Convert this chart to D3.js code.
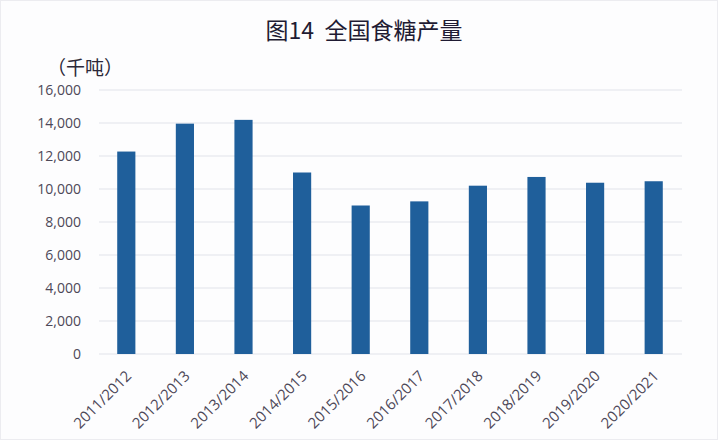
<!DOCTYPE html>
<html><head><meta charset="utf-8">
<script src="https://cdn.jsdelivr.net/npm/d3@7"></script>
<style>html,body{margin:0;padding:0;background:#fff;} svg{display:block;}</style>
</head><body>
<svg id="chart" width="718" height="440"></svg>
<script>
const categories = ["2011/2012","2012/2013","2013/2014","2014/2015","2015/2016","2016/2017","2017/2018","2018/2019","2019/2020","2020/2021"];
const production = [12270, 13960, 14190, 11000, 9000, 9250, 10200, 10730, 10380, 10470];
const yTicks = [0, 2000, 4000, 6000, 8000, 10000, 12000, 14000, 16000];
const titleText = "图14\u00a0\u00a0全国食糖产量";
const unitText = "（千吨）";

const svg = d3.select("#chart");
svg.append("rect").attr("x",0.5).attr("y",0.5).attr("width",717).attr("height",439)
  .attr("fill","#fdfdfe").attr("stroke","#ececf0");

const x = d3.scaleBand().domain(categories).range([97, 683]).paddingInner(0.69).paddingOuter(0.345);
const y = d3.scaleLinear().domain([0, 16000]).range([354, 90]);

// gridlines
svg.append("g").selectAll("line").data(yTicks).join("line")
  .attr("x1", 99).attr("x2", 682)
  .attr("y1", d => y(d)).attr("y2", d => y(d))
  .attr("stroke", "#e1e4ea").attr("stroke-width", 1.2);

// y axis labels
const yAxis = d3.axisLeft(y).tickValues(yTicks).tickFormat(d3.format(",")).tickSize(0).tickPadding(0);
const yg = svg.append("g").attr("transform","translate(81,0)").call(yAxis);
yg.select(".domain").remove();
yg.selectAll("text").attr("font-family","'Open Sans', sans-serif").attr("font-size",14).attr("fill","#4d4858");

// bars
svg.append("g").selectAll("rect").data(categories).join("rect")
  .attr("x", d => x(d))
  .attr("width", x.bandwidth())
  .attr("y", (d,i) => y(production[i]))
  .attr("height", (d,i) => y(0) - y(production[i]))
  .attr("fill", "#1f5f9b");

// x axis labels
const xAxis = d3.axisBottom(x).tickSize(0).tickPadding(0);
const xg = svg.append("g").call(xAxis);
xg.select(".domain").remove();
xg.selectAll(".tick text")
  .attr("font-family","'Open Sans', sans-serif").attr("font-size",15).attr("fill","#4d4858")
  .attr("text-anchor","end")
  .attr("dy", null).attr("y", null)
  .attr("transform", "translate(6,377) rotate(-45)");

// title
svg.append("text").attr("x", 364).attr("y", 39).attr("text-anchor","middle")
  .attr("font-family","'Noto Sans CJK SC', sans-serif").attr("font-size",23)
  .attr("fill","#1f1b33").text(titleText);

// unit
svg.append("text").attr("x", 47).attr("y", 75)
  .attr("font-family","'Noto Sans CJK SC', sans-serif").attr("font-size",19)
  .attr("fill","#2b2838").text(unitText);
</script>
</body></html>
